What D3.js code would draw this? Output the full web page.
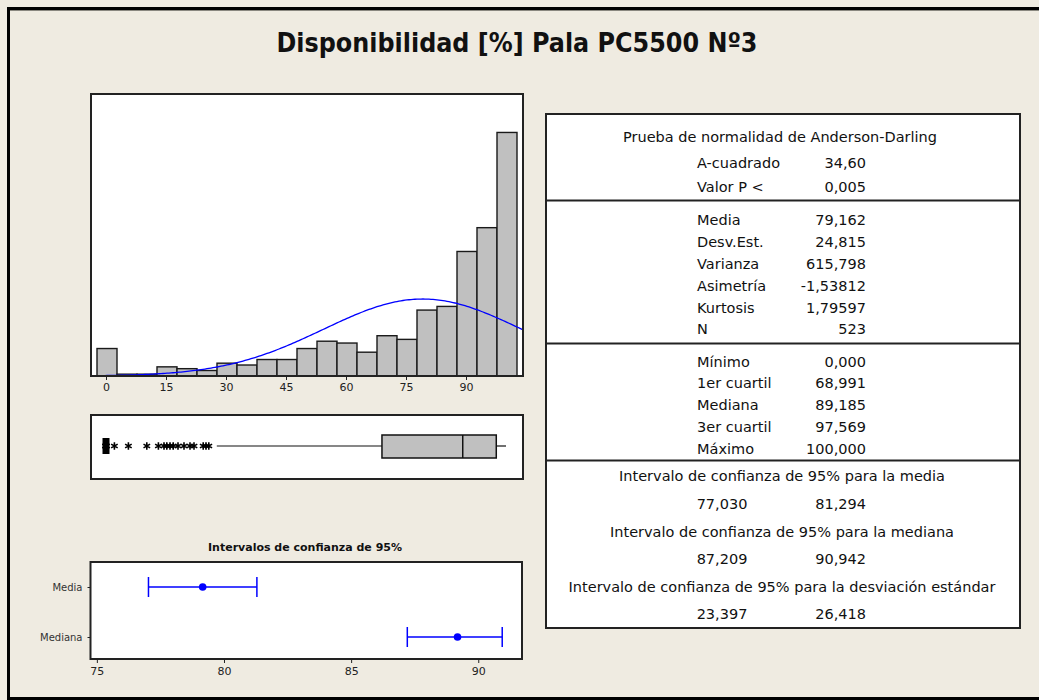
<!DOCTYPE html>
<html>
<head>
<meta charset="utf-8">
<script src="https://cdn.jsdelivr.net/npm/d3@7"></script>
<style>
  html, body { margin: 0; padding: 0; background: #efebe1; }
  svg { display: block; font-family: "DejaVu Sans", Tahoma, sans-serif; }
</style>
</head>
<body>
<div id="chart"></div>
<script>
'use strict';

// ---- data ----
var title = 'Disponibilidad [%] Pala PC5500 Nº3';

var binCenters = [0, 5, 10, 15, 20, 25, 30, 35, 40, 45, 50, 55, 60, 65, 70, 75, 80, 85, 90, 95, 100];
var binCounts  = [15, 1, 1, 5, 4, 3, 7, 6, 9, 9, 15, 19, 18, 13, 22, 20, 36, 38, 68, 81, 133];
var histTicks  = [0, 15, 30, 45, 60, 75, 90];

var mean = 79.162, stdev = 24.815, n = 523;

var boxQ1 = 68.991, boxMedian = 89.185, boxQ3 = 97.569;
var whiskerLow = 27.7, whiskerHigh = 100;
var outliers = [0, 0, 0, 0, 0, 0, 0, 0, 0, 0, 0, 0, 0, 0, 2.1, 5.6, 10.2, 13.1, 14.5, 15.2, 16.0, 16.8,
                18.0, 19.5, 21.0, 22.0, 24.3, 25.0, 25.7];

var ciLabels = ['Media', 'Mediana'];
var ciPoints = [79.162, 89.185];
var ciLow    = [77.030, 87.209];
var ciHigh   = [81.294, 90.942];
var ciTicks  = [75, 80, 85, 90];

var adRows    = [['A-cuadrado', '34,60'], ['Valor P <', '0,005']];
var momentRows = [['Media', '79,162'], ['Desv.Est.', '24,815'], ['Varianza', '615,798'],
                  ['Asimetría', '-1,53812'], ['Kurtosis', '1,79597'], ['N', '523']];
var quartRows = [['Mínimo', '0,000'], ['1er cuartil', '68,991'], ['Mediana', '89,185'],
                 ['3er cuartil', '97,569'], ['Máximo', '100,000']];
var ciTitles = ['Intervalo de confianza de 95% para la media',
                'Intervalo de confianza de 95% para la mediana',
                'Intervalo de confianza de 95% para la desviación estándar'];
var ciValues = [['77,030', '81,294'], ['87,209', '90,942'], ['23,397', '26,418']];

// ---- layout ----
var width = 1039, height = 700;
var binWidth = 5;

var svg = d3.select('#chart').append('svg')
    .attr('width', width)
    .attr('height', height);

svg.append('rect')
    .attr('x', 0).attr('y', 0).attr('width', width).attr('height', height)
    .attr('fill', '#efebe1');

// outer frame
svg.append('rect')
    .attr('x', 8.5).attr('y', 8.5).attr('width', 1100).attr('height', 690)
    .attr('fill', 'none').attr('stroke', '#000').attr('stroke-width', 3);
svg.append('line')
    .attr('x1', 10).attr('x2', width).attr('y1', 10.5).attr('y2', 10.5)
    .attr('stroke', '#8a8880').attr('stroke-width', 1);

svg.append('text')
    .attr('x', 517).attr('y', 51.5)
    .attr('text-anchor', 'middle')
    .style('font-weight', 'bold').style('font-size', '27px')
    .attr('textLength', 481).attr('lengthAdjust', 'spacingAndGlyphs')
    .attr('fill', '#111')
    .text(title);

// ---- histogram ----
var hx = d3.scaleLinear().domain([-3.75, 104.25]).range([91, 523]);
var hy = d3.scaleLinear().domain([0, 154]).range([376, 94]);

svg.append('rect')
    .attr('x', 91).attr('y', 94).attr('width', 432).attr('height', 282)
    .attr('fill', '#fff');

svg.append('clipPath').attr('id', 'hclip')
  .append('rect').attr('x', 91).attr('y', 94).attr('width', 432).attr('height', 282);

var hist = svg.append('g').attr('clip-path', 'url(#hclip)');

hist.selectAll('rect.bar')
    .data(binCenters)
  .enter().append('rect')
    .attr('class', 'bar')
    .attr('x', function(d) { return hx(d - binWidth / 2) + 1; })
    .attr('width', function(d) { return hx(d + binWidth / 2) - hx(d - binWidth / 2); })
    .attr('y', function(d, i) { return hy(binCounts[i]); })
    .attr('height', function(d, i) { return hy(0) - hy(binCounts[i]); })
    .attr('fill', '#c0c0c0')
    .attr('stroke', '#1a1a1a')
    .attr('stroke-width', 1.4);

// fitted normal curve (scaled to counts per bin)
var xs = d3.range(-3.75, 104.5, 0.5);
var normal = function(x) {
  var z = (x - mean) / stdev;
  return n * binWidth * Math.exp(-0.5 * z * z) / (stdev * Math.sqrt(2 * Math.PI));
};
hist.append('path')
    .datum(xs)
    .attr('fill', 'none')
    .attr('stroke', '#0000ff')
    .attr('stroke-width', 1.3)
    .attr('d', d3.line()
      .x(function(d) { return hx(d); })
      .y(function(d) { return hy(normal(d)); }));

svg.append('rect')
    .attr('x', 91).attr('y', 94).attr('width', 432).attr('height', 282)
    .attr('fill', 'none').attr('stroke', '#222').attr('stroke-width', 2);

var hAxis = svg.append('g')
    .attr('transform', 'translate(0,376)')
    .call(d3.axisBottom(hx).tickValues(histTicks).tickSize(4).tickPadding(3));
hAxis.select('.domain').remove();
hAxis.selectAll('line').attr('stroke', '#222');
hAxis.selectAll('text')
    .style('font-size', '11px')
    .style('font-family', '"DejaVu Sans", Tahoma, sans-serif')
    .attr('fill', '#222');

// ---- boxplot ----
svg.append('rect')
    .attr('x', 91).attr('y', 415).attr('width', 432).attr('height', 64)
    .attr('fill', '#fff').attr('stroke', '#222').attr('stroke-width', 2);

var by = 446;
svg.append('line')
    .attr('x1', hx(whiskerLow)).attr('x2', hx(boxQ1))
    .attr('y1', by).attr('y2', by)
    .attr('stroke', '#111').attr('stroke-width', 1.2);
svg.append('line')
    .attr('x1', hx(boxQ3)).attr('x2', hx(whiskerHigh))
    .attr('y1', by).attr('y2', by)
    .attr('stroke', '#111').attr('stroke-width', 1.2);
svg.append('rect')
    .attr('x', hx(boxQ1)).attr('y', 435)
    .attr('width', hx(boxQ3) - hx(boxQ1)).attr('height', 23)
    .attr('fill', '#c0c0c0').attr('stroke', '#111').attr('stroke-width', 1.5);
svg.append('line')
    .attr('x1', hx(boxMedian)).attr('x2', hx(boxMedian))
    .attr('y1', 435).attr('y2', 458)
    .attr('stroke', '#111').attr('stroke-width', 1.5);

var star = d3.symbol().type(d3.symbolAsterisk).size(40);
svg.selectAll('path.outlier')
    .data(outliers)
  .enter().append('path')
    .attr('class', 'outlier')
    .attr('transform', function(d) { return 'translate(' + hx(d) + ',' + by + ')'; })
    .attr('d', star)
    .attr('fill', 'none')
    .attr('stroke', '#000')
    .attr('stroke-width', 1.6);
// zero values pile up into a solid block
svg.append('rect')
    .attr('x', hx(0) - 3.5).attr('y', by - 8).attr('width', 7).attr('height', 16)
    .attr('fill', '#000');

// ---- confidence intervals ----
var cx = d3.scaleLinear().domain([74.75, 91.72]).range([90.5, 522]);
var cy = d3.scalePoint().domain(ciLabels).range([587, 637]);

svg.append('text')
    .attr('x', 305).attr('y', 547)
    .attr('text-anchor', 'middle').attr('dominant-baseline', 'central')
    .style('font-size', '11px').style('font-weight', 'bold')
    .attr('fill', '#111')
    .text('Intervalos de confianza de 95%');

svg.append('rect')
    .attr('x', 90.5).attr('y', 562).attr('width', 431.5).attr('height', 97)
    .attr('fill', '#fff').attr('stroke', '#222').attr('stroke-width', 2);

var cAxis = svg.append('g')
    .attr('transform', 'translate(0,659)')
    .call(d3.axisBottom(cx).tickValues(ciTicks).tickSize(4).tickPadding(4));
cAxis.select('.domain').remove();
cAxis.selectAll('line').attr('stroke', '#222');
cAxis.selectAll('text').style('font-size', '11px')
    .style('font-family', '"DejaVu Sans", Tahoma, sans-serif').attr('fill', '#222');

var lAxis = svg.append('g')
    .attr('transform', 'translate(90.5,0)')
    .call(d3.axisLeft(cy).tickSize(3).tickPadding(5));
lAxis.select('.domain').remove();
lAxis.selectAll('line').attr('stroke', '#222');
lAxis.selectAll('text').style('font-size', '10px')
    .style('font-family', '"DejaVu Sans", Tahoma, sans-serif').attr('fill', '#333');

var ci = svg.selectAll('g.ci')
    .data(ciLabels)
  .enter().append('g')
    .attr('class', 'ci')
    .attr('transform', function(d) { return 'translate(0,' + cy(d) + ')'; });

ci.append('line')
    .attr('x1', function(d, i) { return cx(ciLow[i]); })
    .attr('x2', function(d, i) { return cx(ciHigh[i]); })
    .attr('stroke', '#0000ff').attr('stroke-width', 1.5);
ci.append('line')
    .attr('x1', function(d, i) { return cx(ciLow[i]); })
    .attr('x2', function(d, i) { return cx(ciLow[i]); })
    .attr('y1', -10).attr('y2', 10)
    .attr('stroke', '#0000ff').attr('stroke-width', 1.5);
ci.append('line')
    .attr('x1', function(d, i) { return cx(ciHigh[i]); })
    .attr('x2', function(d, i) { return cx(ciHigh[i]); })
    .attr('y1', -10).attr('y2', 10)
    .attr('stroke', '#0000ff').attr('stroke-width', 1.5);
ci.append('circle')
    .attr('cx', function(d, i) { return cx(ciPoints[i]); })
    .attr('r', 3.8)
    .attr('fill', '#0000ff');

// ---- summary table ----
var tbl = svg.append('g').style('font-size', '14.5px').attr('fill', '#111');
var labelX = 697, valueX = 866, midX = 782;

tbl.append('rect')
    .attr('x', 546).attr('y', 114).attr('width', 474).attr('height', 514)
    .attr('fill', '#fff').attr('stroke', '#222').attr('stroke-width', 2);

[200.5, 343.5, 460.5].forEach(function(y) {
  tbl.append('line').attr('x1', 546).attr('x2', 1020).attr('y1', y).attr('y2', y)
      .attr('stroke', '#222').attr('stroke-width', 2);
});

var addRows = function(rows, ys) {
  rows.forEach(function(r, i) {
    tbl.append('text').attr('x', labelX).attr('y', ys[i])
        .attr('dominant-baseline', 'central').text(r[0]);
    tbl.append('text').attr('x', valueX).attr('y', ys[i])
        .attr('dominant-baseline', 'central').attr('text-anchor', 'end').text(r[1]);
  });
};

tbl.append('text').attr('x', 780).attr('y', 137)
    .attr('dominant-baseline', 'central').attr('text-anchor', 'middle')
    .text('Prueba de normalidad de Anderson-Darling');
addRows(adRows, [163, 187]);
addRows(momentRows, [220, 242, 263.5, 286, 308, 329]);
addRows(quartRows, [362, 383, 405, 427, 448.5]);

var ciTitleY = [476, 532, 587];
var ciValY = [504, 559, 614];
ciTitles.forEach(function(t, i) {
  tbl.append('text').attr('x', midX).attr('y', ciTitleY[i])
      .attr('dominant-baseline', 'central').attr('text-anchor', 'middle').text(t);
  tbl.append('text').attr('x', 722).attr('y', ciValY[i])
      .attr('dominant-baseline', 'central').attr('text-anchor', 'middle').text(ciValues[i][0]);
  tbl.append('text').attr('x', valueX).attr('y', ciValY[i])
      .attr('dominant-baseline', 'central').attr('text-anchor', 'end').text(ciValues[i][1]);
});
</script>
</body>
</html>
